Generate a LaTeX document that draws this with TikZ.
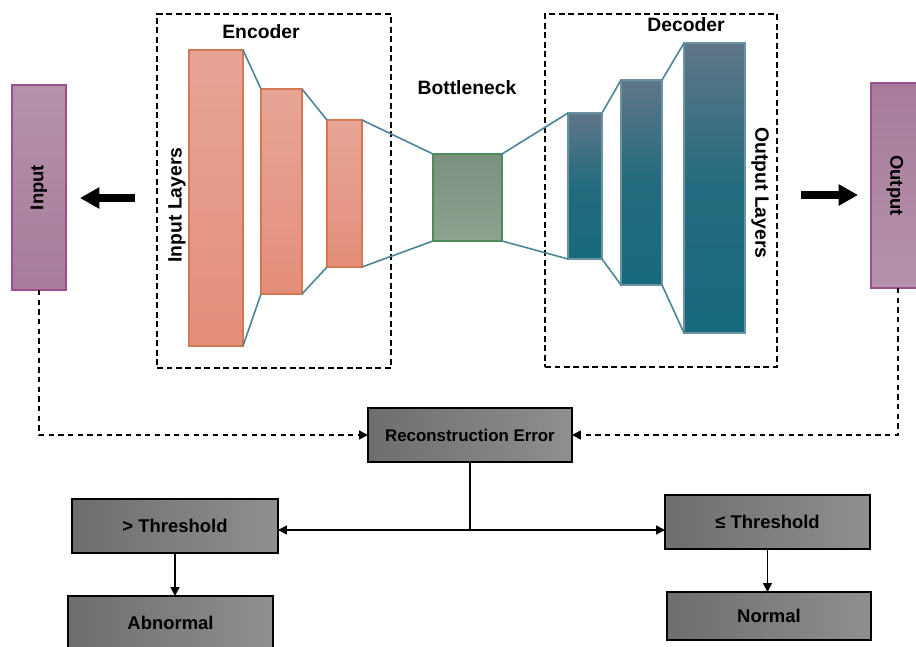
\documentclass[tikz,border=0pt]{standalone}
\usepackage{fontspec}
\setmainfont{Liberation Sans}
\usetikzlibrary{arrows.meta}

\definecolor{boxpurpleA}{HTML}{B592AB}
\definecolor{boxpurpleB}{HTML}{A87B9A}
\definecolor{boxpurpleline}{HTML}{9B4F8D}
\definecolor{encA}{HTML}{E7A596}
\definecolor{encB}{HTML}{E48E7B}
\definecolor{encline}{HTML}{D47752}
\definecolor{decA}{HTML}{5F7687}
\definecolor{decB}{HTML}{18697C}
\definecolor{decline}{HTML}{6A94A2}
\definecolor{bnA}{HTML}{7A9180}
\definecolor{bnB}{HTML}{8DA28F}
\definecolor{bnline}{HTML}{4F8A5B}
\definecolor{linkteal}{HTML}{4B8497}
\definecolor{grayA}{HTML}{6E6E6E}
\definecolor{grayB}{HTML}{8F8F8F}

\tikzset{
  layerbox/.style={draw, line width=0.8pt, inner sep=0pt, outer sep=0pt},
  enclayer/.style={layerbox, draw=encline, top color=encA, bottom color=encB},
  declayer/.style={layerbox, draw=decline, top color=decA, bottom color=decB, middle color=decB!85!decA},
  iobox/.style={layerbox, draw=boxpurpleline, font=\bfseries\fontsize{10.5}{12}\selectfont},
  frame/.style={draw, dashed, line width=1.2pt, dash pattern=on 3.4pt off 2pt, inner sep=0pt, outer sep=0pt},
  link/.style={draw=linkteal, line width=0.9pt},
  graybox/.style={draw, line width=0.9pt, left color=grayA, right color=grayB, inner sep=0pt, outer sep=0pt,
    minimum width=4.1cm, minimum height=1.08cm, font=\bfseries\fontsize{10.5}{12}\selectfont},
  title/.style={font=\bfseries\fontsize{11}{13}\selectfont},
  bigarrow/.style={line width=4pt, -{Triangle[length=11pt, width=11.5pt]}},
  dasharrow/.style={dashed, line width=0.9pt, dash pattern=on 3pt off 2.5pt, -{Triangle[length=5pt, width=5pt]}},
  solidarrow/.style={line width=0.9pt, -{Triangle[length=5pt, width=5pt]}}
}

\begin{document}
\begin{tikzpicture}[x=0.02cm, y=-0.02cm]
    \useasboundingbox (0,0) rectangle (916,646);

    % input and output
    \node[iobox, top color=boxpurpleA, bottom color=boxpurpleB,
          minimum width=1.08cm, minimum height=4.1cm] (inp) at (39,187.5) {};
    \node[rotate=90, font=\bfseries\fontsize{10.5}{12}\selectfont] at (inp.center) {Input};
    \node[iobox, top color=boxpurpleB, bottom color=boxpurpleA,
          minimum width=1.08cm, minimum height=4.1cm] (out) at (898,185.5) {};
    \node[rotate=-90, font=\bfseries\fontsize{10.5}{12}\selectfont] at (895,185.5) {Output};

    % encoder
    \node[frame, minimum width=4.68cm, minimum height=7.08cm] (encframe) at (274,191) {};
    \node[title] at (261,32) {Encoder};
    \node[enclayer, minimum width=1.08cm, minimum height=5.92cm] (e1) at (216,198) {};
    \node[enclayer, minimum width=0.82cm, minimum height=4.1cm] (e2) at (281.5,191.5) {};
    \node[enclayer, minimum width=0.70cm, minimum height=2.94cm] (e3) at (344.5,193.5) {};
    \node[rotate=90, title] at (177,205) {Input Layers};

    % bottleneck
    \node[layerbox, draw=bnline, top color=bnA, bottom color=bnB,
          minimum width=1.38cm, minimum height=1.74cm] (bn) at (467.5,197.5) {};
    \node[title] at (467,88) {Bottleneck};

    % decoder
    \node[frame, minimum width=4.64cm, minimum height=7.06cm] (decframe) at (661,190.5) {};
    \node[title] at (686,25) {Decoder};
    \node[declayer, minimum width=0.68cm, minimum height=2.92cm] (d1) at (585,186) {};
    \node[declayer, minimum width=0.82cm, minimum height=4.1cm] (d2) at (641.5,182.5) {};
    \node[declayer, minimum width=1.22cm, minimum height=5.8cm] (d3) at (714.5,188) {};
    \node[rotate=-90, title] at (760,193) {Output Layers};

    % links between layers
    \draw[link] (e1.north east) -- (e2.north west);
    \draw[link] (e1.south east) -- (e2.south west);
    \draw[link] (e2.north east) -- (e3.north west);
    \draw[link] (e2.south east) -- (e3.south west);
    \draw[link] (e3.north east) -- (bn.north west);
    \draw[link] (e3.south east) -- (bn.south west);
    \draw[link] (bn.north east) -- (d1.north west);
    \draw[link] (bn.south east) -- (d1.south west);
    \draw[link] (d1.north east) -- (d2.north west);
    \draw[link] (d1.south east) -- (d2.south west);
    \draw[link] (d2.north east) -- (d3.north west);
    \draw[link] (d2.south east) -- (d3.south west);

    % big arrows
    \coordinate (lfrom) at (135,198);
    \coordinate (lto) at (80,198);
    \coordinate (rfrom) at (801,195);
    \coordinate (rto) at (858,195);
    \draw[bigarrow] (lfrom) -- (lto);
    \draw[bigarrow] (rfrom) -- (rto);

    % error and decision
    \node[graybox, minimum width=4.08cm, font=\bfseries\fontsize{9.6}{12}\selectfont] (rec) at (470,435) {Reconstruction Error};
    \node[graybox, minimum width=4.12cm] (gt) at (175,526) {> Threshold};
    \node[graybox] (abn) at (170.5,623) {Abnormal};
    \node[graybox] (le) at (767.5,522) {≤ Threshold};
    \node[graybox, minimum width=4.08cm, minimum height=0.96cm] (norm) at (769,616) {Normal};

    \draw[dasharrow] (inp.south) |- (rec.west);
    \draw[dasharrow] (out.south) |- (rec.east);

    \coordinate (split) at (470,530);
    \draw[line width=0.9pt] (rec.south) -- (split);
    \draw[solidarrow] (split) -- (split -| gt.east);
    \draw[solidarrow] (split) -- (split -| le.west);
    \draw[solidarrow] (gt.south) -- (gt.south |- abn.north);
    \draw[solidarrow] (le.south) -- (le.south |- norm.north);
\end{tikzpicture}
\end{document}
